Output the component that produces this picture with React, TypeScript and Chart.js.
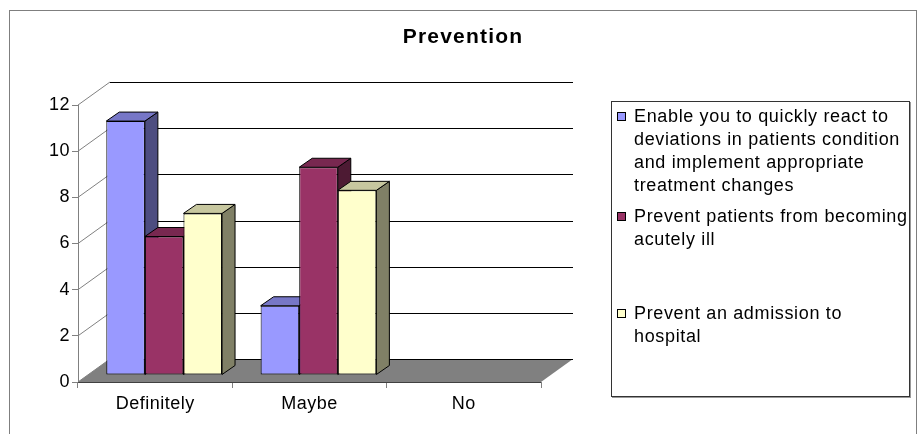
import React, { useEffect, useRef } from "react";
import { Chart, registerables } from "chart.js";

Chart.register(...registerables);

// ---- data ----
const chartTitle = "Prevention";
const categories = ["Definitely", "Maybe", "No"];
const seriesLines = [
  ["Enable you to quickly react to", "deviations in patients condition", "and implement appropriate", "treatment changes"],
  ["Prevent patients from becoming", "acutely ill"],
  ["Prevent an admission to", "hospital"],
];
const quickReactValues = [11, 3, 0];
const acutelyIllValues = [6, 9, 0];
const admissionValues = [7, 8, 0];
const yTickValues = [0, 2, 4, 6, 8, 10, 12];

// ---- style ----
const FONT = '"Liberation Sans", Arial, sans-serif';
const frontColors = ["#9999FF", "#993366", "#FFFFCC"];
const topColors = ["#7777C7", "#782850", "#C7C79F"];
const sideColors = ["#4D4D80", "#4D1A33", "#808066"];
const WALL_DX = 32;
const WALL_DY = -23;
const BAR_DX = 9;
const BAR_DY = -7;
const BAR_SX = 13;
const BAR_SY = -9;
const legendLineCenters = [116.5, 216, 313.5];

function poly(ctx: CanvasRenderingContext2D, pts: number[][], fill: string) {
  ctx.beginPath();
  ctx.moveTo(pts[0][0], pts[0][1]);
  for (let i = 1; i < pts.length; i++) ctx.lineTo(pts[i][0], pts[i][1]);
  ctx.closePath();
  ctx.fillStyle = fill;
  ctx.fill();
  ctx.strokeStyle = "#000";
  ctx.lineWidth = 1;
  ctx.stroke();
}

const threeD = {
  id: "threeD",
  beforeDraw(chart: any) {
    chart.ctx.letterSpacing = "0.5px";
  },
  beforeDatasetsDraw(chart: any) {
    const { ctx, chartArea: a, scales } = chart;
    const y = scales.y;
    ctx.save();
    const b = a.bottom;
    // floor
    ctx.beginPath();
    ctx.moveTo(a.left, b);
    ctx.lineTo(a.right, b);
    ctx.lineTo(a.right + WALL_DX, b + WALL_DY);
    ctx.lineTo(a.left + WALL_DX, b + WALL_DY);
    ctx.closePath();
    ctx.fillStyle = "#808080";
    ctx.fill();
    ctx.lineWidth = 1;
    ctx.strokeStyle = "#404040";
    ctx.beginPath();
    ctx.moveTo(a.left, Math.round(b) + 0.5);
    ctx.lineTo(a.right, Math.round(b) + 0.5);
    ctx.stroke();
    // back wall gridlines + side wall diagonals
    for (const t of y.ticks) {
      const yf = y.getPixelForValue(t.value);
      const yb = Math.round(yf + WALL_DY) + 0.5;
      ctx.strokeStyle = "#000";
      ctx.beginPath();
      ctx.moveTo(a.left + WALL_DX, yb);
      ctx.lineTo(a.right + WALL_DX, yb);
      ctx.stroke();
      ctx.strokeStyle = "#808080";
      ctx.beginPath();
      ctx.moveTo(a.left, yf);
      ctx.lineTo(a.left + WALL_DX, yf + WALL_DY);
      ctx.stroke();
    }
    ctx.restore();
  },
  beforeDatasetDraw() {
    return false;
  },
  afterDatasetsDraw(chart: any) {
    const ctx = chart.ctx;
    const items: any[] = [];
    chart.data.datasets.forEach((ds: any, di: number) => {
      const meta = chart.getDatasetMeta(di);
      meta.data.forEach((el: any, i: number) => items.push({ el, di, v: ds.data[i] }));
    });
    items.sort((p, q) => p.el.x - q.el.x);
    ctx.save();
    ctx.translate(BAR_DX, BAR_DY);
    for (const it of items) {
      if (!it.v) continue;
      it.el.draw(ctx, chart.chartArea);
      const { x, y, base, width } = it.el.getProps(["x", "y", "base", "width"], true);
      const l = x - width / 2;
      const r = x + width / 2;
      poly(ctx, [[r, y], [r + BAR_SX, y + BAR_SY], [r + BAR_SX, base + BAR_SY], [r, base]], sideColors[it.di]);
      poly(ctx, [[l, y], [r, y], [r + BAR_SX, y + BAR_SY], [l + BAR_SX, y + BAR_SY]], topColors[it.di]);
    }
    ctx.restore();
  },
  afterDraw(chart: any) {
    const ctx = chart.ctx;
    ctx.save();
    ctx.letterSpacing = "1.2px";
    ctx.font = `bold 21px ${FONT}`;
    ctx.fillStyle = "#000";
    ctx.textAlign = "center";
    ctx.textBaseline = "middle";
    ctx.fillText(chartTitle, 463, 37);
    ctx.restore();
  },
};

export default function App() {
  const ref = useRef<HTMLCanvasElement | null>(null);
  useEffect(() => {
    if (!ref.current) return;
    const values = [quickReactValues, acutelyIllValues, admissionValues];
    const chart = new Chart(ref.current, {
      type: "bar",
      data: {
        labels: categories,
        datasets: values.map((d, i) => ({
          label: seriesLines[i].join(" "),
          data: d,
          backgroundColor: frontColors[i],
          borderColor: "#000",
          borderWidth: 1,
          borderSkipped: false,
          categoryPercentage: 0.75,
          barPercentage: 1,
        })),
      },
      options: {
        responsive: false,
        animation: false,
        layout: { padding: { top: 105, right: 376, bottom: 0, left: 0 } },
        plugins: { legend: { display: false }, tooltip: { enabled: false }, title: { display: false } },
        scales: {
          x: {
            ticks: { color: "#000", font: { family: FONT, size: 18 }, padding: 5 },
            grid: { offset: true, drawOnChartArea: false, tickLength: 6, color: "#808080" },
            border: { color: "#808080" },
            afterFit(s: any) {
              s.height = 52;
            },
          },
          y: {
            min: yTickValues[0],
            max: yTickValues[yTickValues.length - 1],
            ticks: { stepSize: yTickValues[1] - yTickValues[0], color: "#000", font: { family: FONT, size: 18 }, padding: 2 },
            grid: { drawOnChartArea: false, tickLength: 6, color: "#808080" },
            border: { color: "#808080" },
            afterFit(s: any) {
              s.width = 78;
            },
          },
        },
      },
      plugins: [threeD],
    });
    return () => chart.destroy();
  }, []);

  return (
    <div style={{ position: "fixed", left: 0, top: 0, width: 917, height: 434, overflow: "hidden", background: "#fff" }}>
      <div style={{ position: "absolute", left: 9, top: 10, width: 906, height: 500, borderLeft: "1px solid #7f7f7f", borderTop: "1px solid #7f7f7f", borderRight: "1px solid #7f7f7f" }} />
      <canvas ref={ref} width={917} height={434} style={{ position: "absolute", left: 0, top: 0 }} />
      <div style={{ position: "absolute", left: 611, top: 101, width: 297, height: 294, border: "1px solid #333", boxShadow: "1px 1px 0 #999", background: "#fff" }} />
      {seriesLines.map((lines, i) => (
        <React.Fragment key={i}>
          <div style={{ position: "absolute", left: 617, top: legendLineCenters[i] - 4.5, width: 7, height: 7, border: "1px solid #000", background: frontColors[i] }} />
          <div style={{ position: "absolute", left: 634, top: legendLineCenters[i] - 11.5, fontFamily: FONT, fontSize: 18, lineHeight: "23px", letterSpacing: "0.65px", color: "#000", whiteSpace: "nowrap" }}>
            {lines.map((ln, j) => (
              <div key={j}>{ln}</div>
            ))}
          </div>
        </React.Fragment>
      ))}
    </div>
  );
}
